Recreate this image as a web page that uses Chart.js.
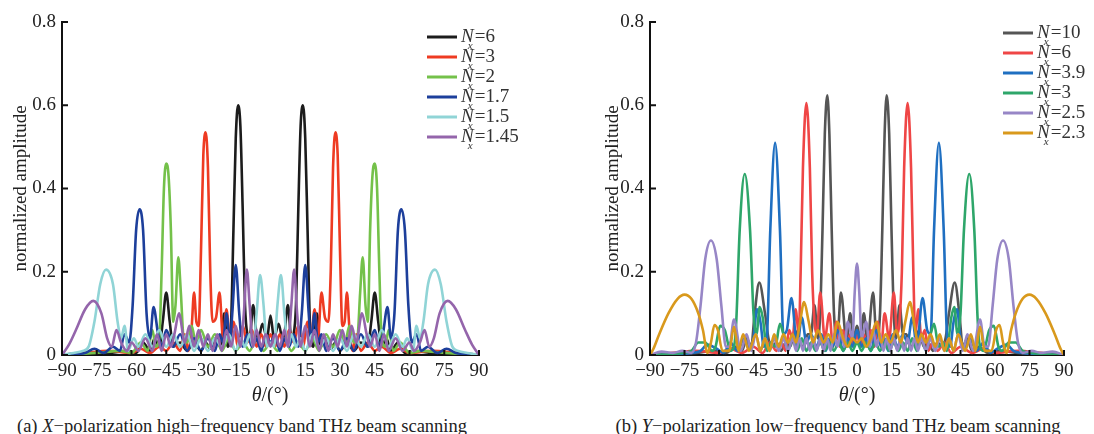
<!DOCTYPE html>
<html>
<head>
<meta charset="utf-8">
<script src="https://cdn.jsdelivr.net/npm/chart.js@4.4.1/dist/chart.umd.min.js"></script>
<style>
  body { margin: 0; width: 1094px; height: 434px; position: relative; background: #fff; font-family: "Liberation Serif", serif; color: #222; overflow: hidden; }
  .box { position: absolute; top: 0; height: 400px; }
  .txt { position: absolute; transform: translate(-50%, -50%); white-space: nowrap; font-size: 20px; }
</style>
</head>
<body>
<div class="box" style="left:0;width:540px"><canvas id="chartA"></canvas></div>
<div class="box" style="left:560px;width:534px"><canvas id="chartB"></canvas></div>
<div class="txt" style="left:270px;top:394px"><i>θ</i>/(°)</div>
<div class="txt" style="left:857px;top:394px"><i>θ</i>/(°)</div>
<div class="txt" style="left:242px;top:426px;font-size:18.5px">(a) <i>X</i>−polarization high−frequency band THz beam scanning</div>
<div class="txt" style="left:838px;top:426px;font-size:18.5px">(b) <i>Y</i>−polarization low−frequency band THz beam scanning</div>
<script>
const thetaTicks = [-90, -75, -60, -45, -30, -15, 0, 15, 30, 45, 60, 75, 90];
const ampTicks = [0, 0.2, 0.4, 0.6, 0.8];

// (a) X-polarization, [theta, amplitude]
const xLabels = ["6", "3", "2", "1.7", "1.5", "1.45"];
const xColors = ["#1c1c1c", "#ee3b22", "#74c14a", "#1d3f9b", "#90d4d6", "#9465ab"];

const xNx6 = [[-90,0],[-80,0.005],[-70,0.005],[-62,0.01],[-58,0.005],[-55,0.03],[-52,0.01],[-50,0.04],[-48,0.02],[-46.5,0.08],[-45,0.15],[-43.5,0.08],[-42,0.02],[-39,0.03],[-36,0.01],[-33,0.03],[-30,0.01],[-28,0.03],[-26,0.015],[-24,0.04],[-21.5,0.02],[-20,0.1],[-18.5,0.02],[-17,0.08],[-16,0.3],[-15,0.52],[-14,0.6],[-13,0.55],[-12,0.35],[-11,0.12],[-10,0.05],[-9,0.04],[-7.5,0.12],[-5.5,0.03],[-3.5,0.075],[-1.5,0.04],[0,0.095],[1.5,0.04],[3.5,0.075],[5.5,0.03],[7.5,0.12],[9,0.04],[10,0.05],[11,0.12],[12,0.35],[13,0.55],[14,0.6],[15,0.52],[16,0.3],[17,0.08],[18.5,0.02],[20,0.1],[21.5,0.02],[24,0.04],[26,0.015],[28,0.03],[30,0.01],[33,0.03],[36,0.01],[39,0.03],[42,0.02],[43.5,0.08],[45,0.15],[46.5,0.08],[48,0.02],[50,0.04],[52,0.01],[55,0.03],[58,0.005],[62,0.01],[70,0.005],[80,0.005],[90,0]];

const xNx3 = [[-90,0],[-80,0.005],[-70,0.01],[-60,0.005],[-56,0.015],[-52,0.005],[-48,0.02],[-45,0.01],[-42,0.03],[-39,0.01],[-37,0.05],[-35.5,0.01],[-34,0.07],[-33,0.15],[-32,0.08],[-31,0.07],[-30,0.25],[-29,0.48],[-28,0.535],[-27,0.45],[-26,0.2],[-25,0.08],[-23.5,0.09],[-22,0.15],[-20.5,0.04],[-19,0.11],[-17.5,0.03],[-16,0.08],[-14,0.02],[-12,0.07],[-10,0.03],[-8,0.06],[-6,0.02],[-4,0.05],[-2,0.02],[0,0.05],[2,0.02],[4,0.05],[6,0.02],[8,0.06],[10,0.03],[12,0.07],[14,0.02],[16,0.08],[17.5,0.03],[19,0.11],[20.5,0.04],[22,0.15],[23.5,0.09],[25,0.08],[26,0.2],[27,0.45],[28,0.535],[29,0.48],[30,0.25],[31,0.07],[32,0.08],[33,0.15],[34,0.07],[35.5,0.01],[37,0.05],[39,0.01],[42,0.03],[45,0.01],[48,0.02],[52,0.005],[56,0.015],[60,0.005],[70,0.01],[80,0.005],[90,0]];

const xNx2 = [[-90,0],[-75,0.005],[-65,0.01],[-60,0.005],[-56,0.03],[-53,0.01],[-51,0.06],[-49.5,0.02],[-48,0.04],[-47,0.2],[-46,0.4],[-45,0.46],[-44,0.43],[-43,0.3],[-42,0.08],[-41,0.12],[-39.8,0.235],[-38.7,0.15],[-37.5,0.04],[-36,0.03],[-34,0.07],[-32,0.02],[-30,0.06],[-27,0.02],[-24,0.05],[-21,0.01],[-18,0.04],[-15,0.01],[-12,0.03],[-9,0.01],[-6,0.04],[-3,0.01],[0,0.03],[3,0.01],[6,0.04],[9,0.01],[12,0.03],[15,0.01],[18,0.04],[21,0.01],[24,0.05],[27,0.02],[30,0.06],[32,0.02],[34,0.07],[36,0.03],[37.5,0.04],[38.7,0.15],[39.8,0.235],[41,0.12],[42,0.08],[43,0.3],[44,0.43],[45,0.46],[46,0.4],[47,0.2],[48,0.04],[49.5,0.02],[51,0.06],[53,0.01],[56,0.03],[60,0.005],[65,0.01],[75,0.005],[90,0]];

const xNx17 = [[-90,0],[-80,0.005],[-76,0.015],[-72,0.005],[-68,0.02],[-65,0.01],[-63,0.05],[-61,0.03],[-59.5,0.12],[-58,0.3],[-56.5,0.35],[-55,0.3],[-53.5,0.1],[-52,0.04],[-50.5,0.115],[-48.5,0.05],[-47,0.02],[-45,0.06],[-42,0.02],[-39,0.05],[-36,0.01],[-33,0.04],[-30,0.01],[-27,0.04],[-24,0.01],[-22,0.05],[-20.5,0.03],[-19,0.1],[-17.5,0.03],[-16.5,0.1],[-15,0.216],[-13.5,0.1],[-12,0.02],[-10,0.05],[-8,0.02],[-6,0.04],[-4,0.01],[-2,0.05],[0,0.03],[2,0.05],[4,0.01],[6,0.04],[8,0.02],[10,0.05],[12,0.02],[13.5,0.1],[15,0.216],[16.5,0.1],[17.5,0.03],[19,0.1],[20.5,0.03],[22,0.05],[24,0.01],[27,0.04],[30,0.01],[33,0.04],[36,0.01],[39,0.05],[42,0.02],[45,0.06],[47,0.02],[48.5,0.05],[50.5,0.115],[52,0.04],[53.5,0.1],[55,0.3],[56.5,0.35],[58,0.3],[59.5,0.12],[61,0.03],[63,0.05],[65,0.01],[68,0.02],[72,0.005],[76,0.015],[80,0.005],[90,0]];

const xNx15 = [[-90,0],[-85,0.005],[-81,0.01],[-78.5,0.02],[-76,0.08],[-73.5,0.17],[-71,0.205],[-68,0.17],[-66,0.08],[-64.5,0.04],[-63,0.07],[-61.5,0.01],[-59,0.04],[-57,0.02],[-54,0.05],[-51,0.02],[-48,0.06],[-45,0.02],[-42,0.05],[-39,0.02],[-36,0.05],[-33,0.01],[-30,0.04],[-27,0.01],[-24,0.04],[-21,0.02],[-18,0.05],[-15,0.01],[-13,0.04],[-11,0.02],[-9,0.05],[-7.5,0.02],[-6,0.1],[-4.5,0.192],[-3,0.12],[-1.5,0.02],[0,0.03],[1.5,0.02],[3,0.12],[4.5,0.192],[6,0.1],[7.5,0.02],[9,0.05],[11,0.02],[13,0.04],[15,0.01],[18,0.05],[21,0.02],[24,0.04],[27,0.01],[30,0.04],[33,0.01],[36,0.05],[39,0.02],[42,0.05],[45,0.02],[48,0.06],[51,0.02],[54,0.05],[57,0.02],[59,0.04],[61.5,0.01],[63,0.07],[64.5,0.04],[66,0.08],[68,0.17],[71,0.205],[73.5,0.17],[76,0.08],[78.5,0.02],[81,0.01],[85,0.005],[90,0]];

const xNx145 = [[-90,0],[-87,0.025],[-84,0.06],[-80,0.11],[-76.5,0.13],[-73,0.1],[-70.5,0.04],[-68.5,0.02],[-66.5,0.06],[-64.5,0.03],[-62,0.01],[-60,0.03],[-57,0.01],[-54,0.04],[-51,0.01],[-49,0.05],[-47,0.01],[-45,0.05],[-43,0.02],[-41.5,0.05],[-39.5,0.1],[-37,0.03],[-35,0.07],[-33,0.02],[-31,0.06],[-29,0.02],[-27,0.05],[-25,0.01],[-23,0.05],[-21,0.01],[-19,0.06],[-17,0.02],[-15,0.07],[-13,0.02],[-11.5,0.1],[-10.2,0.205],[-9,0.12],[-7.5,0.02],[-6,0.06],[-4,0.02],[-2,0.05],[0,0.02],[2,0.05],[4,0.02],[6,0.06],[7.5,0.02],[9,0.12],[10.2,0.205],[11.5,0.1],[13,0.02],[15,0.07],[17,0.02],[19,0.06],[21,0.01],[23,0.05],[25,0.01],[27,0.05],[29,0.02],[31,0.06],[33,0.02],[35,0.07],[37,0.03],[39.5,0.1],[41.5,0.05],[43,0.02],[45,0.05],[47,0.01],[49,0.05],[51,0.01],[54,0.04],[57,0.01],[60,0.03],[62,0.01],[64.5,0.03],[66.5,0.06],[68.5,0.02],[70.5,0.04],[73,0.1],[76.5,0.13],[80,0.11],[84,0.06],[87,0.025],[90,0]];

// (b) Y-polarization, [theta, amplitude]
const yLabels = ["10", "6", "3.9", "3", "2.5", "2.3"];
const yColors = ["#555555", "#ef4646", "#1f6fc1", "#2ea66a", "#9786c6", "#d9991c"];

const yNx10 = [[-90,0],[-70,0.005],[-62,0.01],[-57,0.005],[-53,0.02],[-50,0.01],[-48,0.04],[-46,0.02],[-44.5,0.1],[-42.5,0.174],[-40,0.1],[-38.5,0.04],[-37,0.02],[-35,0.03],[-33,0.01],[-31,0.03],[-29,0.02],[-27,0.06],[-25,0.03],[-23,0.02],[-21.5,0.05],[-20,0.05],[-18.5,0.12],[-17,0.04],[-16,0.1],[-15,0.3],[-14,0.53],[-12.9,0.624],[-12,0.53],[-11,0.3],[-10,0.1],[-8.5,0.04],[-7,0.15],[-4.5,0.03],[-3,0.1],[-1.5,0.04],[0,0.07],[1.5,0.04],[3,0.1],[4.5,0.03],[7,0.15],[8.5,0.04],[10,0.1],[11,0.3],[12,0.53],[12.9,0.624],[14,0.53],[15,0.3],[16,0.1],[17,0.04],[18.5,0.12],[20,0.05],[21.5,0.05],[23,0.02],[25,0.03],[27,0.06],[29,0.02],[31,0.03],[33,0.01],[35,0.03],[37,0.02],[38.5,0.04],[40,0.1],[42.5,0.174],[44.5,0.1],[46,0.02],[48,0.04],[50,0.01],[53,0.02],[57,0.005],[62,0.01],[70,0.005],[90,0]];

const yNx6 = [[-90,0],[-80,0.005],[-70,0.01],[-60,0.005],[-55,0.015],[-50,0.005],[-45,0.02],[-41,0.005],[-38,0.03],[-35,0.01],[-33,0.03],[-31,0.01],[-29.5,0.06],[-28,0.04],[-26.7,0.11],[-25.3,0.05],[-24.5,0.2],[-23.5,0.45],[-22,0.605],[-20.5,0.45],[-19.5,0.2],[-18.5,0.08],[-17.5,0.05],[-16,0.15],[-14,0.04],[-12,0.1],[-10.5,0.02],[-9,0.08],[-7.5,0.02],[-6,0.06],[-4.5,0.02],[-3,0.05],[-1.5,0.02],[0,0.05],[1.5,0.02],[3,0.05],[4.5,0.02],[6,0.06],[7.5,0.02],[9,0.08],[10.5,0.02],[12,0.1],[14,0.04],[16,0.15],[17.5,0.05],[18.5,0.08],[19.5,0.2],[20.5,0.45],[22,0.605],[23.5,0.45],[24.5,0.2],[25.3,0.05],[26.7,0.11],[28,0.04],[29.5,0.06],[31,0.01],[33,0.03],[35,0.01],[38,0.03],[41,0.005],[45,0.02],[50,0.005],[55,0.015],[60,0.005],[70,0.01],[80,0.005],[90,0]];

const yNx39 = [[-90,0],[-72,0.005],[-68,0.01],[-65,0.025],[-61,0.015],[-58,0.005],[-55,0.03],[-52,0.01],[-49,0.04],[-47,0.02],[-45,0.04],[-43.5,0.11],[-42,0.08],[-40.5,0.02],[-39.2,0.04],[-37.7,0.3],[-35.6,0.51],[-33.5,0.3],[-32,0.05],[-30.5,0.06],[-28.5,0.137],[-26,0.02],[-24,0.09],[-22,0.03],[-20,0.05],[-17.5,0.02],[-15.5,0.05],[-13.5,0.01],[-12,0.04],[-10.5,0.02],[-8.5,0.06],[-6,0.01],[-4,0.04],[-2,0.02],[0,0.06],[2,0.02],[4,0.04],[6,0.01],[8.5,0.06],[10.5,0.02],[12,0.04],[13.5,0.01],[15.5,0.05],[17.5,0.02],[20,0.05],[22,0.03],[24,0.09],[26,0.02],[28.5,0.137],[30.5,0.06],[32,0.05],[33.5,0.3],[35.6,0.51],[37.7,0.3],[39.2,0.04],[40.5,0.02],[42,0.08],[43.5,0.11],[45,0.04],[47,0.02],[49,0.04],[52,0.01],[55,0.03],[58,0.005],[61,0.015],[65,0.025],[68,0.01],[72,0.005],[90,0]];

const yNx3 = [[-90,0],[-76,0.005],[-72,0.01],[-69,0.03],[-66,0.03],[-63,0.01],[-61.5,0.02],[-59.5,0.07],[-57.5,0.06],[-55,0.01],[-53.5,0.02],[-52.5,0.08],[-51,0.3],[-48.8,0.435],[-46.5,0.3],[-45,0.1],[-43.7,0.05],[-42.3,0.115],[-41,0.09],[-39,0.01],[-37.5,0.03],[-35.5,0.02],[-33.5,0.075],[-32,0.05],[-30,0.01],[-28,0.04],[-26,0.01],[-24,0.04],[-22,0.01],[-20,0.03],[-18,0.01],[-16,0.03],[-14,0.01],[-12,0.03],[-10,0.01],[-8,0.03],[-6,0.01],[-4,0.03],[-2,0.01],[0,0.03],[2,0.01],[4,0.03],[6,0.01],[8,0.03],[10,0.01],[12,0.03],[14,0.01],[16,0.03],[18,0.01],[20,0.03],[22,0.01],[24,0.04],[26,0.01],[28,0.04],[30,0.01],[32,0.05],[33.5,0.075],[35.5,0.02],[37.5,0.03],[39,0.01],[41,0.09],[42.3,0.115],[43.7,0.05],[45,0.1],[46.5,0.3],[48.8,0.435],[51,0.3],[52.5,0.08],[53.5,0.02],[55,0.01],[57.5,0.06],[59.5,0.07],[61.5,0.02],[63,0.01],[66,0.03],[69,0.03],[72,0.01],[76,0.005],[90,0]];

const yNx25 = [[-90,0],[-85,0.008],[-80,0.005],[-76,0.01],[-72,0.005],[-70,0.03],[-68,0.12],[-66,0.23],[-63.5,0.275],[-61,0.23],[-59,0.12],[-57,0.02],[-55.5,0.02],[-53.5,0.085],[-50.5,0.01],[-48,0.05],[-46,0.01],[-44,0.05],[-42,0.01],[-40,0.04],[-38,0.01],[-36,0.04],[-34,0.01],[-32,0.04],[-30,0.01],[-28,0.04],[-26.5,0.01],[-25,0.04],[-23.5,0.01],[-22,0.04],[-20.5,0.01],[-19,0.04],[-17.5,0.01],[-16,0.04],[-14.5,0.01],[-13,0.04],[-11.5,0.01],[-10,0.05],[-8.5,0.02],[-7,0.06],[-5.5,0.02],[-4,0.08],[-3,0.06],[-2,0.04],[-1,0.15],[0,0.22],[1,0.15],[2,0.04],[3,0.06],[4,0.08],[5.5,0.02],[7,0.06],[8.5,0.02],[10,0.05],[11.5,0.01],[13,0.04],[14.5,0.01],[16,0.04],[17.5,0.01],[19,0.04],[20.5,0.01],[22,0.04],[23.5,0.01],[25,0.04],[26.5,0.01],[28,0.04],[30,0.01],[32,0.04],[34,0.01],[36,0.04],[38,0.01],[40,0.04],[42,0.01],[44,0.05],[46,0.01],[48,0.05],[50.5,0.01],[53.5,0.085],[55.5,0.02],[57,0.02],[59,0.12],[61,0.23],[63.5,0.275],[66,0.23],[68,0.12],[70,0.03],[72,0.005],[76,0.01],[80,0.005],[85,0.008],[90,0]];

const yNx23 = [[-90,0],[-88.5,0.015],[-86,0.05],[-82,0.1],[-78,0.135],[-75,0.145],[-72,0.135],[-69,0.1],[-67,0.06],[-65,0.005],[-63.5,0.03],[-62,0.072],[-60.5,0.06],[-58.5,0.01],[-55.5,0.01],[-53.5,0.068],[-51.5,0.01],[-49.5,0.05],[-47,0.01],[-44,0.05],[-42,0.01],[-40,0.04],[-38,0.01],[-36,0.05],[-34,0.02],[-32,0.05],[-30,0.03],[-28,0.05],[-26.5,0.03],[-25,0.07],[-23,0.127],[-21,0.08],[-19,0.03],[-17,0.06],[-14.5,0.03],[-12.5,0.05],[-10.5,0.03],[-8.5,0.08],[-6,0.04],[-4,0.02],[-2,0.04],[0,0.03],[2,0.04],[4,0.02],[6,0.04],[8.5,0.08],[10.5,0.03],[12.5,0.05],[14.5,0.03],[17,0.06],[19,0.03],[21,0.08],[23,0.127],[25,0.07],[26.5,0.03],[28,0.05],[30,0.03],[32,0.05],[34,0.02],[36,0.05],[38,0.01],[40,0.04],[42,0.01],[44,0.05],[47,0.01],[49.5,0.05],[51.5,0.01],[53.5,0.068],[55.5,0.01],[58.5,0.01],[60.5,0.06],[62,0.072],[63.5,0.03],[65,0.005],[67,0.06],[69,0.1],[72,0.135],[75,0.145],[78,0.135],[82,0.1],[86,0.05],[88.5,0.015],[90,0]];

const SERIF = '"Liberation Serif", serif';

// axis tick marks point into the plot
const inwardTicks = {
  id: "inwardTicks",
  afterDatasetsDraw(chart) {
    const { ctx, scales: { x, y } } = chart;
    ctx.save();
    ctx.strokeStyle = "#111";
    ctx.lineWidth = 2;
    ctx.beginPath();
    x.ticks.forEach((t) => {
      const px = x.getPixelForValue(t.value);
      ctx.moveTo(px, y.bottom);
      ctx.lineTo(px, y.bottom - 5);
    });
    y.ticks.forEach((t) => {
      const py = y.getPixelForValue(t.value);
      ctx.moveTo(x.left, py);
      ctx.lineTo(x.left + 6, py);
    });
    ctx.stroke();
    ctx.restore();
  },
};

// legend with "N" + subscript "x"
const nxLegend = {
  id: "nxLegend",
  afterDraw(chart, args, opts) {
    const ctx = chart.ctx;
    ctx.save();
    ctx.textBaseline = "middle";
    opts.labels.forEach((lab, i) => {
      const y = opts.y + i * opts.dy;
      ctx.strokeStyle = opts.colors[i];
      ctx.lineWidth = 3;
      ctx.beginPath();
      ctx.moveTo(opts.x, y);
      ctx.lineTo(opts.x + 30, y);
      ctx.stroke();
      const tx = opts.x + 34;
      ctx.fillStyle = "#333";
      ctx.font = "italic 19px " + SERIF;
      ctx.fillText("N", tx, y);
      const wN = ctx.measureText("N").width;
      ctx.font = "italic 11px " + SERIF;
      ctx.fillText("x", tx + wN - 6, y + 9);
      ctx.font = "19px " + SERIF;
      ctx.fillText("=" + lab, tx + wN + 1, y);
    });
    ctx.restore();
  },
};

function makeChart(id, series, labels, colors, pad, yWidth, legendPos) {
  return new Chart(document.getElementById(id), {
    type: "line",
    data: {
      datasets: series.map((s, i) => ({
        label: labels[i],
        data: s,
        borderColor: colors[i],
        borderWidth: 2.6,
        pointRadius: 0,
        cubicInterpolationMode: "monotone",
        fill: false,
        order: -i,
      })),
    },
    options: {
      responsive: true,
      maintainAspectRatio: false,
      animation: false,
      layout: { padding: pad },
      plugins: {
        legend: { display: false },
        tooltip: { enabled: false },
        nxLegend: { x: legendPos.x, y: legendPos.y, dy: 20, labels: labels, colors: colors },
      },
      scales: {
        x: {
          type: "linear",
          min: -90,
          max: 90,
          afterBuildTicks: (s) => { s.ticks = thetaTicks.map((v) => ({ value: v })); },
          afterFit: (s) => { s.height = 45; },
          grid: { display: false, drawTicks: false },
          border: { color: "#111", width: 2 },
          ticks: {
            color: "#222",
            font: { family: SERIF, size: 19 },
            padding: 5,
            maxRotation: 0,
            autoSkip: false,
            callback: (v) => String(v).replace("-", "\u2212"),
          },
        },
        y: {
          min: 0,
          max: 0.8,
          afterBuildTicks: (s) => { s.ticks = ampTicks.map((v) => ({ value: v })); },
          afterFit: (s) => { s.width = yWidth; },
          grid: { display: false, drawTicks: false },
          border: { color: "#111", width: 2 },
          ticks: {
            color: "#222",
            font: { family: SERIF, size: 19 },
            padding: 6,
            callback: (v) => (v === 0 ? "0" : v.toFixed(1)),
          },
          title: {
            display: true,
            text: "normalized amplitude",
            color: "#222",
            font: { family: SERIF, size: 19 },
            padding: 0,
          },
        },
      },
    },
    plugins: [inwardTicks, nxLegend],
  });
}

makeChart("chartA", [xNx6, xNx3, xNx2, xNx17, xNx15, xNx145], xLabels, xColors,
  { left: 10, right: 61, top: 22, bottom: 0 }, 52, { x: 427, y: 37 });
makeChart("chartB", [yNx10, yNx6, yNx39, yNx3, yNx25, yNx23], yLabels, yColors,
  { left: 42, right: 30, top: 22, bottom: 0 }, 48, { x: 443, y: 33 });
</script>
</body>
</html>
